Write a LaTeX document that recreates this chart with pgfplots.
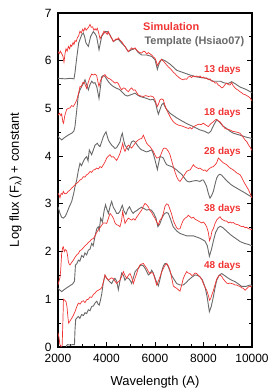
\documentclass[border=0pt]{standalone}
\usepackage{fontspec}
\setmainfont{Liberation Sans}
\usepackage{pgfplots}
\pgfplotsset{compat=1.18}
\definecolor{simred}{RGB}{240,52,52}
\definecolor{tplgray}{RGB}{105,105,105}
\begin{document}
\begin{tikzpicture}[font=\fontsize{12}{14}\selectfont]
\useasboundingbox (-58bp,-44bp) rectangle (222bp,347bp);
\begin{axis}[
 at={(0,0)}, anchor=south west,
 scale only axis, width=194bp, height=334bp,
 xmin=2000, xmax=10000, ymin=0, ymax=7,
 xtick={2000,4000,6000,8000,10000},
 minor x tick num=3,
 ytick={0,1,2,3,4,5,6,7}, minor y tick num=1,
 tick align=inside,
 xtick pos=bottom, ytick pos=both,
 major tick length=5bp, minor tick length=3bp,
 axis line style={line width=1.2bp},
 every tick/.style={black, line width=0.8bp},
 /pgf/number format/assume math mode=true,
 /pgf/number format/1000 sep={},
 scaled x ticks=false,
 xticklabel style={yshift=-4bp},
 yticklabel style={xshift=-3bp},
 xlabel={Wavelength (A)},
 ylabel={Log flux (F\textsubscript{λ}) + constant},
 xlabel style={font=\fontsize{13}{15}\selectfont, at={(axis description cs:0.5,-0.105)}, anchor=center},
 ylabel style={font=\fontsize{13}{15}\selectfont, at={(axis description cs:-0.17,0.5)}, anchor=south},
 clip=true,
]
% ---------- 13 days ----------
\addplot[tplgray, line width=0.9bp] table {
2000 5.63
2300 5.62
2500 5.63
2660 5.62
2700 5.75
2770 6.05
2852 6.37
2976 6.54
3045 6.58
3100 6.50
3155 6.37
3251 6.30
3347 6.51
3457 6.61
3550 6.55
3595 6.50
3691 6.23
3801 6.51
3938 6.61
4035 6.61
4145 6.54
4282 6.40
4392 6.44
4488 6.45
4626 6.37
4763 6.30
4900 6.19
5038 6.23
5176 6.26
5313 6.17
5450 6.12
5657 6.12
5863 6.09
6000 6.02
6097 5.82
6179 5.95
6275 6.03
6413 6.00
6619 5.93
6894 5.80
7169 5.75
7444 5.70
7719 5.66
7994 5.64
8131 5.63
8268 5.60
8406 5.57
8543 5.57
8700 5.57
8818 5.54
9000 5.52
9163 5.56
9300 5.52
9500 5.45
9750 5.40
10000 5.33
};
\addplot[simred, line width=0.7bp] table {
2000 6.19
2050 6.15
2100 6.20
2151 6.15
2200 6.10
2247 5.97
2290 6.15
2330 6.25
2380 6.20
2426 6.30
2480 6.25
2520 6.33
2564 6.30
2620 6.38
2660 6.34
2701 6.42
2750 6.40
2797 6.48
2850 6.52
2907 6.62
2960 6.58
3017 6.66
3060 6.62
3113 6.69
3160 6.64
3210 6.67
3260 6.70
3320 6.76
3370 6.70
3430 6.71
3480 6.64
3526 6.67
3570 6.64
3622 6.68
3680 6.58
3732 6.46
3770 6.50
3801 6.52
3850 6.57
3897 6.62
3940 6.58
3980 6.59
4030 6.55
4076 6.61
4120 6.56
4172 6.50
4230 6.46
4282 6.40
4340 6.43
4392 6.46
4440 6.44
4488 6.48
4560 6.43
4626 6.40
4700 6.34
4763 6.30
4830 6.24
4900 6.19
4970 6.23
5038 6.27
5110 6.24
5176 6.27
5250 6.22
5313 6.19
5380 6.17
5450 6.16
5520 6.20
5588 6.19
5660 6.14
5725 6.17
5800 6.14
5863 6.12
5930 6.08
6000 6.05
6050 5.99
6097 5.90
6140 5.94
6179 5.98
6230 6.01
6275 6.03
6320 6.00
6371 5.98
6430 5.94
6482 5.91
6550 5.87
6619 5.84
6690 5.80
6756 5.76
6820 5.73
6894 5.69
6960 5.66
7031 5.63
7100 5.61
7169 5.60
7240 5.62
7306 5.61
7375 5.66
7444 5.67
7510 5.65
7581 5.68
7650 5.66
7719 5.68
7790 5.66
7860 5.68
7930 5.64
7994 5.66
8060 5.63
8130 5.64
8200 5.60
8268 5.62
8340 5.57
8406 5.57
8480 5.53
8543 5.54
8610 5.49
8680 5.47
8750 5.43
8820 5.45
8890 5.50
8956 5.53
9020 5.50
9093 5.49
9160 5.54
9231 5.47
9300 5.43
9368 5.40
9440 5.38
9506 5.35
9570 5.33
9643 5.30
9710 5.29
9780 5.27
9850 5.25
9920 5.22
10000 5.16
};
% ---------- 18 days ----------
\addplot[tplgray, line width=0.9bp] table {
2000 4.41
2151 4.34
2300 4.40
2450 4.45
2563 4.48
2650 4.52
2700 4.62
2770 4.95
2839 5.28
2900 5.38
2976 5.46
3045 5.52
3113 5.60
3180 5.50
3251 5.39
3320 5.50
3388 5.57
3460 5.53
3526 5.54
3600 5.45
3691 5.21
3750 5.45
3801 5.66
3870 5.69
3938 5.67
4000 5.62
4076 5.56
4180 5.50
4282 5.46
4419 5.42
4526 5.40
4626 5.35
4763 5.28
4870 5.26
4969 5.28
5076 5.30
5176 5.32
5280 5.28
5382 5.25
5520 5.23
5657 5.21
5800 5.18
5931 5.19
6020 5.12
6097 4.95
6140 4.88
6206 4.98
6280 5.08
6344 5.11
6450 5.00
6619 4.90
6900 4.80
7169 4.72
7400 4.66
7581 4.62
7856 4.55
8050 4.52
8200 4.48
8300 4.52
8420 4.65
8544 4.76
8650 4.72
8800 4.63
8956 4.58
9100 4.52
9231 4.48
9506 4.44
9750 4.40
10000 4.37
};
\addplot[simred, line width=0.7bp] table {
2000 4.86
2060 4.90
2120 4.85
2151 4.88
2200 4.72
2230 4.69
2280 4.85
2357 4.98
2420 5.00
2495 5.01
2560 5.06
2632 5.04
2700 5.10
2770 5.17
2840 5.30
2907 5.46
2960 5.45
3017 5.54
3080 5.55
3140 5.47
3182 5.42
3250 5.55
3320 5.65
3390 5.72
3457 5.70
3520 5.72
3595 5.69
3650 5.55
3691 5.46
3750 5.58
3801 5.63
3870 5.68
3938 5.71
4000 5.66
4076 5.63
4140 5.62
4213 5.59
4280 5.56
4351 5.53
4420 5.55
4488 5.52
4560 5.44
4626 5.39
4700 5.43
4763 5.42
4830 5.38
4900 5.35
4970 5.40
5038 5.43
5110 5.38
5176 5.39
5250 5.33
5313 5.28
5420 5.26
5519 5.25
5620 5.27
5725 5.25
5830 5.26
5931 5.24
6000 5.18
6050 5.10
6097 5.04
6150 5.10
6206 5.18
6275 5.20
6344 5.18
6400 5.08
6480 4.97
6550 4.90
6650 4.80
6756 4.72
6850 4.68
6963 4.65
7060 4.64
7169 4.62
7270 4.60
7375 4.58
7450 4.60
7513 4.57
7600 4.62
7719 4.65
7800 4.67
7900 4.66
7994 4.69
8100 4.65
8200 4.62
8300 4.68
8406 4.72
8480 4.76
8544 4.77
8610 4.74
8681 4.72
8780 4.65
8888 4.58
9000 4.56
9094 4.55
9200 4.52
9300 4.51
9400 4.50
9506 4.48
9600 4.42
9713 4.34
9790 4.30
9850 4.24
9920 4.19
10000 4.12
};
% ---------- 28 days ----------
\addplot[tplgray, line width=0.9bp] table {
2000 2.94
2082 2.80
2150 2.72
2220 2.70
2300 2.74
2357 2.80
2450 2.92
2564 3.05
2640 3.20
2701 3.36
2770 3.50
2840 3.70
2907 3.85
2970 3.80
3045 3.89
3110 3.95
3182 3.99
3240 3.90
3292 4.13
3340 4.08
3388 4.03
3450 4.12
3526 4.23
3622 4.27
3680 4.22
3732 4.20
3800 4.30
3870 4.41
3930 4.47
3980 4.51
4030 4.42
4076 4.34
4145 4.28
4213 4.23
4280 4.20
4351 4.16
4420 4.18
4490 4.24
4557 4.30
4610 4.42
4653 4.48
4700 4.35
4763 4.23
4830 4.18
4900 4.13
4970 4.22
5038 4.30
5107 4.32
5176 4.30
5244 4.25
5313 4.20
5380 4.16
5450 4.13
5520 4.12
5588 4.10
5650 4.09
5725 4.10
5800 4.12
5863 4.13
5930 4.05
6000 3.92
6050 3.82
6097 3.72
6150 3.85
6206 3.99
6280 3.98
6344 3.96
6413 3.88
6482 3.82
6580 3.80
6688 3.78
6790 3.75
6894 3.71
7000 3.66
7100 3.62
7200 3.55
7306 3.48
7400 3.46
7500 3.47
7581 3.48
7700 3.49
7856 3.47
7940 3.50
7994 3.50
8060 3.44
8131 3.36
8200 3.22
8268 3.12
8340 3.18
8406 3.26
8480 3.42
8543 3.54
8610 3.60
8681 3.62
8750 3.60
8818 3.56
8950 3.49
9093 3.42
9230 3.37
9368 3.33
9500 3.29
9643 3.25
9800 3.20
10000 3.14
};
\addplot[simred, line width=0.7bp] table {
2000 3.22
2040 3.19
2082 3.13
2130 3.22
2180 3.20
2220 3.26
2280 3.21
2357 3.22
2420 3.26
2495 3.29
2560 3.33
2632 3.36
2700 3.40
2770 3.43
2840 3.46
2907 3.50
2980 3.52
3045 3.57
3110 3.56
3182 3.61
3250 3.63
3320 3.68
3390 3.66
3457 3.71
3530 3.72
3595 3.75
3660 3.73
3732 3.78
3800 3.76
3870 3.82
3940 3.88
4007 3.96
4080 4.00
4145 4.03
4213 3.98
4282 3.99
4350 3.95
4419 3.91
4490 3.98
4557 4.06
4610 4.15
4667 4.27
4720 4.15
4763 4.10
4830 4.18
4900 4.23
4970 4.20
5038 4.17
5110 4.22
5176 4.27
5250 4.31
5313 4.34
5380 4.36
5450 4.37
5519 4.44
5590 4.35
5657 4.27
5725 4.23
5794 4.20
5860 4.15
5931 4.10
6000 4.02
6069 3.96
6140 3.97
6206 3.99
6280 4.08
6344 4.16
6413 4.17
6482 4.15
6550 4.10
6619 4.03
6690 3.90
6756 3.78
6830 3.66
6894 3.57
6960 3.50
7031 3.47
7100 3.52
7169 3.57
7240 3.63
7306 3.68
7375 3.70
7444 3.71
7510 3.76
7581 3.82
7650 3.78
7720 3.76
7790 3.74
7856 3.75
7930 3.72
7994 3.70
8062 3.71
8131 3.68
8200 3.72
8268 3.75
8340 3.77
8406 3.78
8480 3.82
8543 3.86
8612 3.96
8680 3.93
8750 3.89
8820 3.86
8890 3.84
8956 3.82
9030 3.78
9100 3.75
9170 3.73
9231 3.71
9300 3.68
9368 3.65
9440 3.63
9506 3.61
9580 3.55
9643 3.48
9710 3.42
9780 3.36
9850 3.30
9920 3.22
10000 3.12
};
% ---------- 38 days ----------
\addplot[tplgray, line width=0.9bp] table {
2000 1.23
2150 1.16
2300 1.22
2450 1.27
2600 1.32
2680 1.38
2720 1.72
2780 1.75
2840 1.82
2900 1.80
2980 1.92
3050 1.88
3110 1.97
3180 1.93
3250 2.03
3320 2.05
3390 2.17
3450 2.12
3530 2.33
3600 2.48
3660 2.52
3700 2.45
3760 2.70
3830 2.62
3900 2.85
3960 2.98
4020 2.88
4080 2.80
4150 2.95
4213 3.05
4280 2.93
4350 2.87
4420 2.80
4490 2.80
4560 2.85
4650 2.97
4720 2.85
4800 2.78
4870 2.88
4950 2.94
5030 2.85
5100 2.80
5180 2.84
5250 2.86
5350 2.90
5450 2.93
5550 2.90
5650 2.87
5750 2.88
5850 2.87
5950 2.80
6040 2.70
6120 2.52
6200 2.58
6300 2.72
6400 2.80
6480 2.82
6550 2.80
6640 2.68
6750 2.52
6900 2.43
7030 2.38
7300 2.33
7581 2.33
7850 2.28
8062 2.22
8160 2.12
8242 1.90
8330 2.05
8406 2.22
8500 2.40
8600 2.50
8700 2.53
8800 2.50
8950 2.43
9100 2.36
9231 2.31
9400 2.25
9506 2.21
9700 2.17
9850 2.15
10000 2.12
};
\addplot[simred, line width=0.7bp] table {
2000 1.30
2040 1.38
2080 1.45
2110 1.60
2150 1.95
2190 2.08
2220 2.10
2260 2.00
2300 2.04
2357 2.02
2400 1.90
2426 1.79
2460 1.74
2495 1.72
2560 1.77
2632 1.82
2700 1.88
2770 1.93
2840 1.96
2907 2.02
2976 2.04
3045 2.08
3110 2.12
3182 2.15
3251 2.19
3320 2.22
3390 2.26
3457 2.27
3526 2.33
3595 2.40
3660 2.45
3732 2.50
3800 2.55
3870 2.60
3940 2.60
4007 2.59
4080 2.70
4145 2.80
4213 2.76
4282 2.70
4351 2.60
4419 2.56
4488 2.55
4557 2.52
4620 2.65
4667 2.84
4720 2.70
4763 2.59
4832 2.65
4900 2.70
4969 2.68
5038 2.66
5107 2.69
5176 2.66
5244 2.72
5313 2.77
5382 2.82
5450 2.87
5519 2.95
5588 3.01
5657 2.98
5725 2.94
5794 2.86
5863 2.82
5931 2.75
6000 2.70
6069 2.62
6138 2.56
6206 2.66
6275 2.70
6344 2.80
6413 2.95
6480 3.00
6550 2.98
6620 2.88
6688 2.78
6756 2.65
6825 2.57
6894 2.50
6960 2.47
7031 2.48
7100 2.58
7169 2.66
7240 2.70
7306 2.72
7375 2.76
7444 2.73
7513 2.70
7581 2.72
7650 2.68
7719 2.66
7790 2.64
7856 2.62
7925 2.60
7994 2.62
8062 2.58
8131 2.52
8200 2.40
8250 2.23
8300 2.30
8350 2.43
8406 2.48
8470 2.58
8543 2.66
8612 2.70
8681 2.73
8750 2.68
8818 2.66
8890 2.64
8956 2.64
9030 2.60
9100 2.62
9160 2.60
9231 2.61
9300 2.58
9368 2.57
9440 2.56
9506 2.54
9580 2.52
9643 2.53
9713 2.50
9780 2.51
9850 2.48
9920 2.47
10000 2.46
};
% ---------- 48 days ----------
\addplot[tplgray, line width=0.9bp] table {
2320 -0.50
2350 0.03
2400 0.05
2500 0.04
2600 0.05
2680 0.05
2700 0.35
2730 0.58
2800 0.62
2839 0.64
2900 0.60
2976 0.68
3050 0.66
3113 0.72
3180 0.70
3251 0.78
3320 0.76
3388 0.85
3460 0.86
3526 0.92
3600 0.96
3650 0.90
3700 0.88
3750 0.98
3800 1.10
3870 1.35
3938 1.50
4007 1.44
4076 1.40
4145 1.36
4213 1.33
4282 1.40
4350 1.44
4420 1.38
4488 1.20
4560 1.40
4626 1.55
4700 1.50
4760 1.40
4830 1.45
4900 1.44
4970 1.40
5038 1.33
5107 1.45
5180 1.58
5250 1.62
5313 1.65
5382 1.70
5450 1.72
5520 1.70
5590 1.65
5660 1.58
5725 1.51
5794 1.54
5863 1.61
5931 1.55
6000 1.45
6069 1.35
6138 1.28
6206 1.42
6275 1.58
6344 1.70
6413 1.75
6482 1.74
6550 1.68
6620 1.58
6688 1.50
6756 1.44
6894 1.33
7031 1.30
7169 1.30
7306 1.36
7375 1.40
7513 1.46
7650 1.51
7760 1.50
7856 1.47
7960 1.40
8062 1.26
8150 1.05
8242 0.74
8320 0.85
8406 1.05
8480 1.25
8544 1.40
8640 1.50
8750 1.54
8890 1.49
9025 1.44
9160 1.40
9300 1.37
9440 1.32
9575 1.27
9750 1.27
9919 1.30
10000 1.29
};
\addplot[simred, line width=0.7bp] table {
2000 0.30
2040 0.20
2080 0.05
2130 0.01
2170 0.02
2200 0.50
2225 1.00
2280 0.98
2330 0.95
2370 0.85
2410 0.62
2440 0.50
2500 0.55
2564 0.60
2630 0.66
2701 0.74
2770 0.84
2839 0.92
2910 0.90
2976 0.95
3045 0.97
3113 0.93
3180 0.99
3251 1.00
3320 1.05
3390 1.04
3457 1.10
3526 1.13
3595 1.17
3663 1.19
3732 1.21
3801 1.24
3870 1.36
3938 1.51
4007 1.44
4076 1.40
4145 1.43
4213 1.45
4282 1.43
4351 1.38
4419 1.33
4488 1.37
4557 1.40
4626 1.48
4694 1.58
4763 1.50
4832 1.44
4900 1.50
4969 1.54
5038 1.46
5107 1.33
5176 1.44
5244 1.54
5313 1.65
5382 1.72
5450 1.74
5519 1.75
5588 1.70
5657 1.65
5725 1.58
5794 1.54
5863 1.56
5931 1.54
6000 1.42
6069 1.30
6138 1.38
6206 1.47
6275 1.57
6344 1.65
6413 1.71
6482 1.75
6550 1.70
6619 1.61
6688 1.45
6756 1.28
6825 1.25
6894 1.23
6960 1.20
7031 1.17
7100 1.30
7169 1.44
7240 1.52
7306 1.58
7375 1.55
7444 1.54
7513 1.50
7581 1.51
7650 1.55
7719 1.54
7790 1.50
7856 1.47
7925 1.42
7994 1.33
8062 1.25
8131 1.19
8200 1.08
8250 0.98
8300 1.02
8350 1.10
8406 1.18
8470 1.30
8543 1.42
8612 1.48
8681 1.51
8750 1.48
8818 1.42
8890 1.38
8956 1.34
9030 1.33
9093 1.34
9160 1.33
9231 1.32
9300 1.30
9368 1.30
9440 1.28
9506 1.27
9580 1.24
9643 1.23
9713 1.19
9780 1.22
9850 1.26
9920 1.27
10000 1.26
};
% ---------- annotations ----------
\node[anchor=west, text=simred, font=\bfseries\fontsize{11}{13}\selectfont, inner sep=0pt] at (axis cs:5505,6.71) {Simulation};
\node[anchor=west, text=tplgray, font=\bfseries\fontsize{11}{13}\selectfont, inner sep=0pt] at (axis cs:5560,6.39) {Template (Hsiao07)};
\node[anchor=west, text=simred, font=\bfseries\fontsize{10}{12}\selectfont, inner sep=0pt] at (axis cs:8021,5.81) {13 days};
\node[anchor=west, text=simred, font=\bfseries\fontsize{10}{12}\selectfont, inner sep=0pt] at (axis cs:8021,4.91) {18 days};
\node[anchor=west, text=simred, font=\bfseries\fontsize{10}{12}\selectfont, inner sep=0pt] at (axis cs:8021,4.09) {28 days};
\node[anchor=west, text=simred, font=\bfseries\fontsize{10}{12}\selectfont, inner sep=0pt] at (axis cs:8021,2.89) {38 days};
\node[anchor=west, text=simred, font=\bfseries\fontsize{10}{12}\selectfont, inner sep=0pt] at (axis cs:8021,1.70) {48 days};
\end{axis}
\end{tikzpicture}
\end{document}
